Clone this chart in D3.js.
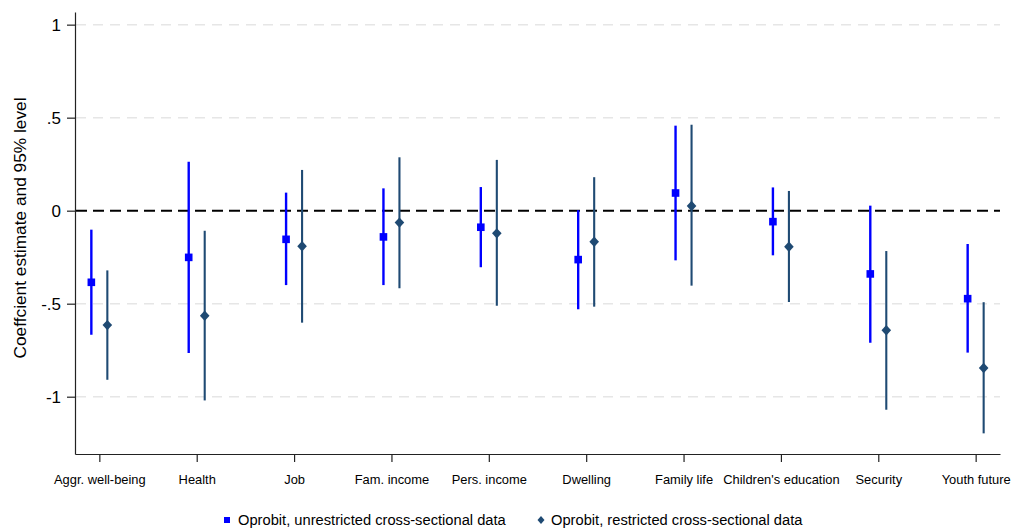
<!DOCTYPE html>
<html>
<head>
<meta charset="utf-8">
<script src="https://cdn.jsdelivr.net/npm/d3@7"></script>
<style>
  body { margin: 0; background: #fff; }
  text { font-family: "Liberation Sans", Arial, Helvetica, sans-serif; fill: #000; }
</style>
</head>
<body>
<script>
// categories and estimates
var categories = ["Aggr. well-being", "Health", "Job", "Fam. income", "Pers. income",
  "Dwelling", "Family life", "Children's education", "Security", "Youth future"];

// Oprobit, unrestricted cross-sectional data
var unrEst = [-0.385, -0.251, -0.154, -0.141, -0.089, -0.263, 0.095, -0.059, -0.340, -0.473];
var unrLo  = [-0.667, -0.765, -0.400, -0.400, -0.304, -0.530, -0.267, -0.240, -0.710, -0.763];
var unrHi  = [-0.102, 0.263, 0.097, 0.120, 0.127, 0.003, 0.457, 0.125, 0.027, -0.179];

// Oprobit, restricted cross-sectional data
var resEst = [-0.615, -0.565, -0.191, -0.064, -0.122, -0.167, 0.025, -0.194, -0.643, -0.846];
var resLo  = [-0.909, -1.020, -0.602, -0.417, -0.511, -0.516, -0.403, -0.491, -1.070, -1.197];
var resHi  = [-0.321, -0.108, 0.219, 0.287, 0.273, 0.180, 0.462, 0.106, -0.217, -0.492];

var yTicks = [1, 0.5, 0, -0.5, -1];
var yTickLabels = ["1", ".5", "0", "-.5", "-1"];
var legendLabels = ["Oprobit, unrestricted cross-sectional data", "Oprobit, restricted cross-sectional data"];

var svgWidth = 1013;
var svgHeight = 529;

var blue = "#0000ff";
var navy = "#1f4a73";

var svg = d3.select("body")
  .append("svg")
  .attr("width", svgWidth)
  .attr("height", svgHeight);

// scales
var xScale = d3.scaleLinear()
  .domain([0.75, categories.length + 0.25])
  .range([75, 1000]);

var yScale = d3.scaleLinear()
  .domain([-1.308, 1.068])
  .range([454, 12]);

var offset = 8;

// gridlines
svg.append("g")
  .selectAll("line")
  .data(yTicks.filter(d => d !== 0))
  .enter()
  .append("line")
  .attr("x1", 76)
  .attr("x2", 1000)
  .attr("y1", d => yScale(d))
  .attr("y2", d => yScale(d))
  .attr("stroke", "#e6e6e6")
  .attr("stroke-width", 1.5)
  .attr("stroke-dasharray", "10,7");

// zero reference line
svg.append("line")
  .attr("x1", 76)
  .attr("x2", 1000)
  .attr("y1", yScale(0))
  .attr("y2", yScale(0))
  .attr("stroke", "#000")
  .attr("stroke-width", 2)
  .attr("stroke-dasharray", "11,6");

// y axis
var yAxis = d3.axisLeft(yScale)
  .tickValues(yTicks)
  .tickFormat((d, i) => yTickLabels[i])
  .tickSize(8)
  .tickPadding(6)
  .tickSizeOuter(0);

var yAxisG = svg.append("g")
  .attr("transform", "translate(75,0)")
  .call(yAxis);
yAxisG.select(".domain").attr("stroke", "#222").attr("stroke-width", 1.2);
yAxisG.selectAll(".tick line").attr("stroke", "#222").attr("stroke-width", 1.2);
yAxisG.selectAll(".tick text")
  .style("font-size", "17px")
  .style("font-family", "'Liberation Sans', Arial, sans-serif")
  .attr("fill", "#000");

// x axis
var xAxis = d3.axisBottom(xScale)
  .tickValues(d3.range(1, categories.length + 1))
  .tickFormat((d, i) => categories[i])
  .tickSize(8)
  .tickPadding(13)
  .tickSizeOuter(0);

var xAxisG = svg.append("g")
  .attr("transform", "translate(0,454)")
  .call(xAxis);
xAxisG.select(".domain").attr("stroke", "#222").attr("stroke-width", 1.2);
xAxisG.selectAll(".tick line").attr("stroke", "#222").attr("stroke-width", 1.2);
xAxisG.selectAll(".tick text")
  .style("font-size", "12.9px")
  .style("font-family", "'Liberation Sans', Arial, sans-serif")
  .attr("fill", "#000");

// y axis title
svg.append("text")
  .attr("transform", "translate(26,228) rotate(-90)")
  .attr("text-anchor", "middle")
  .style("font-size", "17.3px")
  .text("Coeffcient estimate and 95% level");

var unrData = categories.map((c, i) => ({ i: i + 1, est: unrEst[i], lo: unrLo[i], hi: unrHi[i] }));
var resData = categories.map((c, i) => ({ i: i + 1, est: resEst[i], lo: resLo[i], hi: resHi[i] }));

// unrestricted series
svg.append("g")
  .selectAll("line")
  .data(unrData)
  .enter()
  .append("line")
  .attr("x1", d => xScale(d.i) - offset)
  .attr("x2", d => xScale(d.i) - offset)
  .attr("y1", d => yScale(d.lo))
  .attr("y2", d => yScale(d.hi))
  .attr("stroke", blue)
  .attr("stroke-width", 2.4);

svg.append("g")
  .selectAll("rect")
  .data(unrData)
  .enter()
  .append("rect")
  .attr("x", d => xScale(d.i) - offset - 3.8)
  .attr("y", d => yScale(d.est) - 3.8)
  .attr("width", 7.6)
  .attr("height", 7.6)
  .attr("fill", blue);

// restricted series
svg.append("g")
  .selectAll("line")
  .data(resData)
  .enter()
  .append("line")
  .attr("x1", d => xScale(d.i) + offset)
  .attr("x2", d => xScale(d.i) + offset)
  .attr("y1", d => yScale(d.lo))
  .attr("y2", d => yScale(d.hi))
  .attr("stroke", navy)
  .attr("stroke-width", 2.1);

var diamond = "M0,-5.2L4.8,0L0,5.2L-4.8,0Z";

svg.append("g")
  .selectAll("path")
  .data(resData)
  .enter()
  .append("path")
  .attr("d", diamond)
  .attr("transform", d => "translate(" + (xScale(d.i) + offset) + "," + yScale(d.est) + ")")
  .attr("fill", navy);

// legend
var legend = svg.append("g").attr("transform", "translate(0,520)");

legend.append("rect")
  .attr("x", 224)
  .attr("y", -3)
  .attr("width", 6)
  .attr("height", 6)
  .attr("fill", blue);
legend.append("text")
  .attr("x", 238)
  .attr("y", 5)
  .style("font-size", "14.7px")
  .text(legendLabels[0]);

legend.append("path")
  .attr("d", "M0,-4L3.5,0L0,4L-3.5,0Z")
  .attr("transform", "translate(541,0)")
  .attr("fill", navy);
legend.append("text")
  .attr("x", 551)
  .attr("y", 5)
  .style("font-size", "14.7px")
  .text(legendLabels[1]);
</script>
</body>
</html>
